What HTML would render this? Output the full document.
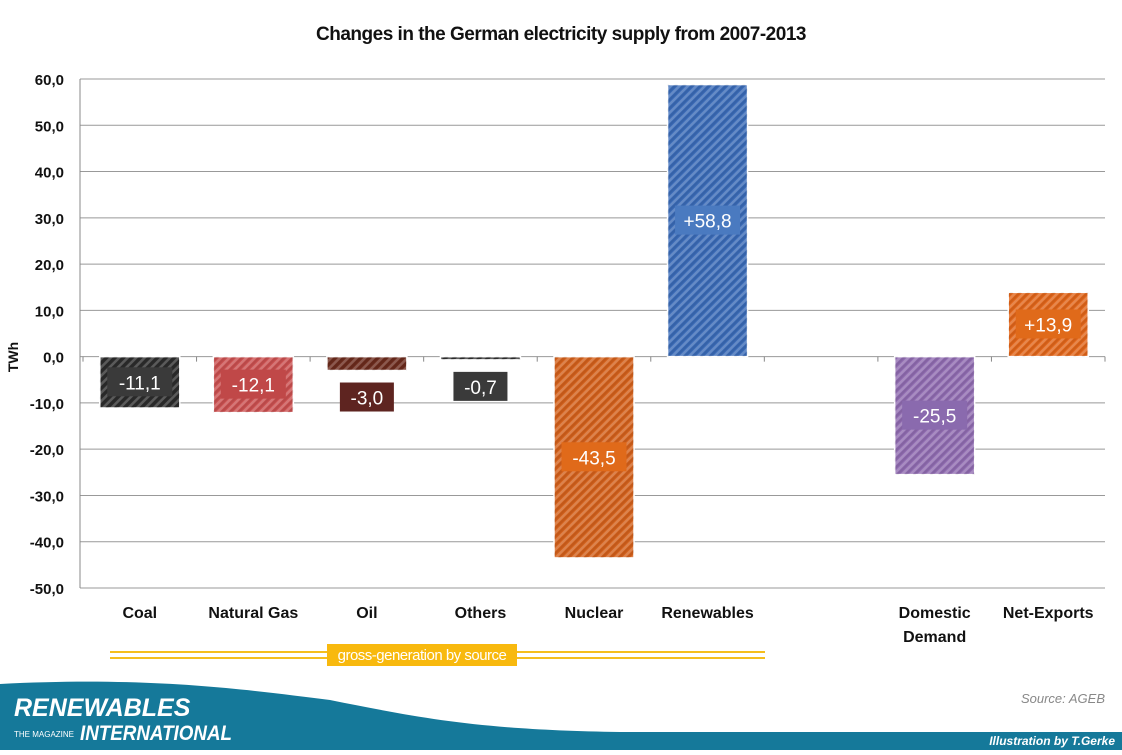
<!DOCTYPE html>
<html><head><meta charset="utf-8"><style>
body{margin:0;background:#fff;font-family:"Liberation Sans",sans-serif}
svg text{font-family:"Liberation Sans",sans-serif}
</style></head><body>
<svg id="c" width="1122" height="750" viewBox="0 0 1122 750" xmlns="http://www.w3.org/2000/svg">
<defs>
<pattern id="hatch" width="6" height="6" patternUnits="userSpaceOnUse" patternTransform="rotate(45)">
<rect width="2.5" height="6" fill="rgba(255,255,255,0.22)"/>
<rect x="3" width="2" height="6" fill="rgba(0,0,0,0.08)"/>
</pattern>
</defs>
<text x="561" y="40" text-anchor="middle" font-size="19" font-weight="bold" fill="#111" letter-spacing="-0.5">Changes in the German electricity supply  from 2007-2013</text>
<g id="grid"></g>
<g id="bars"></g>
<text transform="translate(18,357) rotate(-90)" text-anchor="middle" font-size="14" font-weight="bold" fill="#111">TWh</text>
<g>
<line x1="110" y1="652" x2="765" y2="652" stroke="#f5be1e" stroke-width="2"/>
<line x1="110" y1="658" x2="765" y2="658" stroke="#f5be1e" stroke-width="2"/>
<rect x="327" y="644" width="190" height="22" fill="#f8b90e"/>
<text x="422" y="660" text-anchor="middle" font-size="15" fill="#fff" letter-spacing="-0.5">gross-generation by source</text>
</g>
<text x="1105" y="703" text-anchor="end" font-size="13" font-style="italic" fill="#888">Source: AGEB</text>
<path d="M0,684 C150,676 250,690 330,700 C420,718 480,730 620,732 L1122,732 L1122,750 L0,750 Z" fill="#15799a"/>
<text x="14" y="716" font-size="25" font-weight="bold" font-style="italic" fill="#fff">RENEWABLES</text>
<text x="14" y="737" font-size="8" font-family="Liberation Serif" fill="#fff">THE MAGAZINE</text>
<text x="80" y="740" font-size="21" font-weight="bold" font-style="italic" fill="#fff" textLength="152" lengthAdjust="spacingAndGlyphs">INTERNATIONAL</text>
<text x="1115" y="745" text-anchor="end" font-size="12" font-weight="bold" font-style="italic" fill="#fff">Illustration by T.Gerke</text>
</svg>
<script>
const categories=["Coal","Natural Gas","Oil","Others","Nuclear","Renewables","","Domestic|Demand","Net-Exports"];
const values=[-11.1,-12.1,-3.0,-0.7,-43.5,58.8,null,-25.5,13.9];
const valueLabels=["-11,1","-12,1","-3,0","-0,7","-43,5","+58,8","","-25,5","+13,9"];
const colors=["#2b2b2b","#c94f4f","#6a2a1c","#2f2f2f","#d2601b","#3a6ab6","","#8f6bb0","#e0651a"];
const labelColors=["#3a3a3a","#c04848","#5e2420","#3a3a3a","#e06a1a","#4a7ac0","","#8a6aae","#e06a1a"];
const ticks=[60,50,40,30,20,10,0,-10,-20,-30,-40,-50];
const tickLabels=["60,0","50,0","40,0","30,0","20,0","10,0","0,0","-10,0","-20,0","-30,0","-40,0","-50,0"];
const NS="http://www.w3.org/2000/svg";
const L=80,R=1105,T=79,B=588,yMax=60,yMin=-50;
const y=v=>T+(yMax-v)/(yMax-yMin)*(B-T);
const slot=(R-L-3)/categories.length;
const xc=i=>L+3+slot*(i+0.5);
function mk(t,a,p){const e=document.createElementNS(NS,t);for(const k in a)e.setAttribute(k,a[k]);p.appendChild(e);return e;}
const g=document.getElementById('grid'),bg=document.getElementById('bars');
ticks.forEach((t,i)=>{
 const gl=mk('line',{x1:L,x2:R,y1:y(t),y2:y(t),stroke:'#999','stroke-width':1},g);
 
 
 const tl=mk('text',{x:L-16,y:y(t)+6,'text-anchor':'end','font-size':15,'font-weight':'bold',fill:'#111'},g);
 tl.textContent=tickLabels[i];
 
 
});
const ax=mk('line',{x1:L,x2:L,y1:T,y2:B,stroke:'#888'},g);


for(let i=0;i<=categories.length;i++){
 const tk=mk('line',{x1:L+3+slot*i,x2:L+3+slot*i,y1:y(0),y2:y(0)+5,stroke:'#888'},g);
 
 
}
categories.forEach((c,i)=>{
 if(c){
  const lines=c.split('|');
  lines.forEach((ln,j)=>{
   const t=mk('text',{x:xc(i),y:618+j*24,'text-anchor':'middle','font-size':16,'font-weight':'bold',fill:'#111'},bg);
   t.textContent=ln;
   
   
  });
 }
 const v=values[i];if(v===null)return;
 const y0=y(Math.max(v,0)),y1=y(Math.min(v,0)),w=80;
 const r=mk('rect',{x:xc(i)-w/2,y:y0,width:w,height:Math.max(y1-y0,1.5),fill:colors[i],stroke:'#fff','stroke-width':1.5},bg);
 
 
 mk('rect',{x:xc(i)-w/2,y:y0,width:w,height:Math.max(y1-y0,1.5),fill:'url(#hatch)'},bg);
 let ly=(y0+y1)/2;
 if(y1-y0<40) ly=y1+27;
 const lw=valueLabels[i].length*11+10;
 const lb=mk('rect',{x:xc(i)-lw/2,y:ly-15,width:lw,height:29,fill:labelColors[i]},bg);
 
 
 const lt=mk('text',{x:xc(i),y:ly+7,'text-anchor':'middle','font-size':19,fill:'#fff'},bg);
 lt.textContent=valueLabels[i];
 
 
});
</script>
</body></html>
